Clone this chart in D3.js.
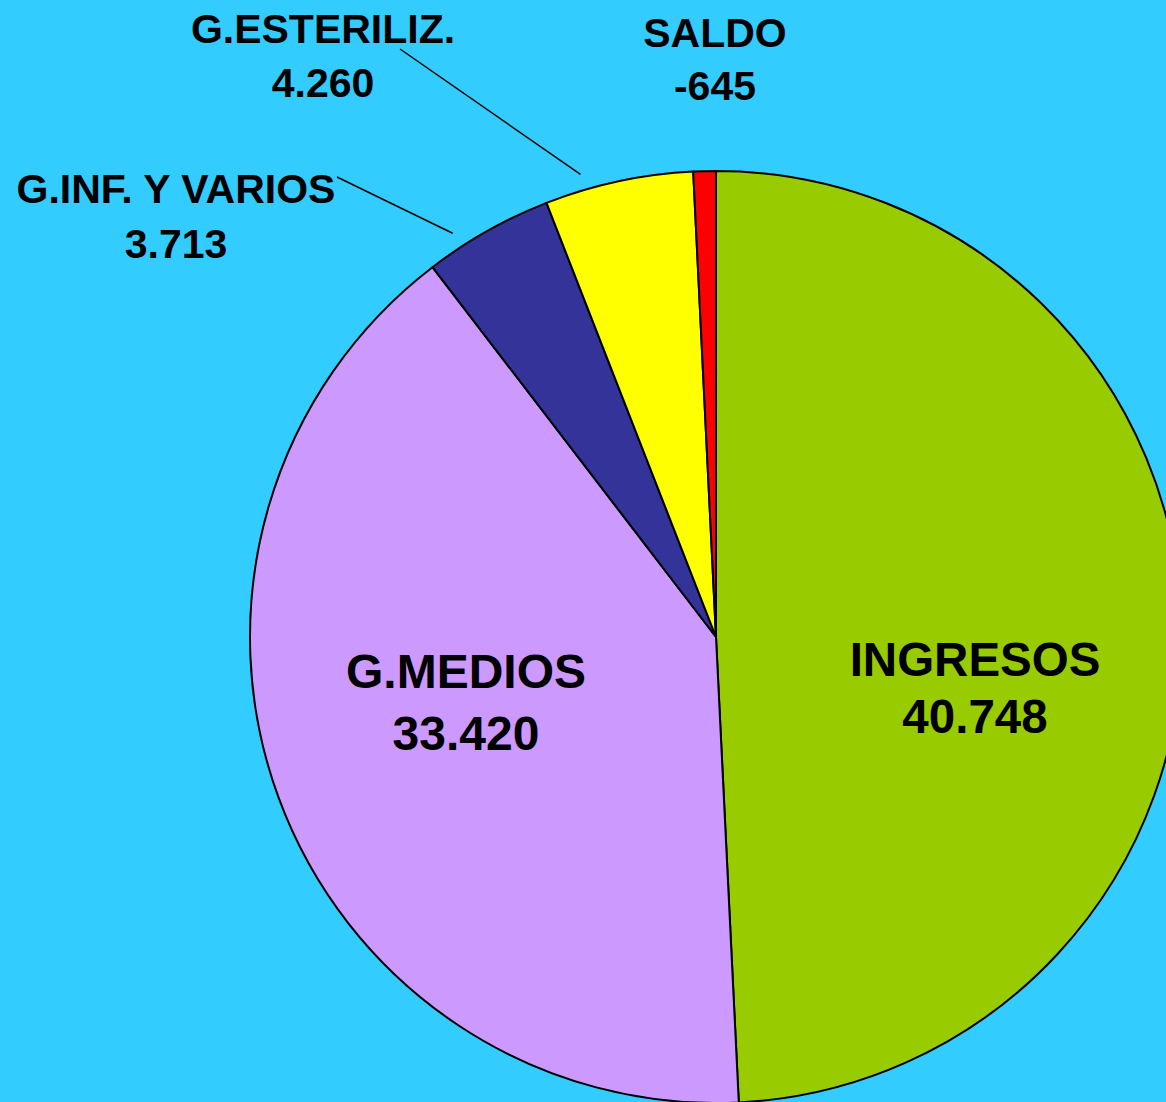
<!DOCTYPE html>
<html>
<head>
<meta charset="utf-8">
<script src="https://cdn.jsdelivr.net/npm/d3@7"></script>
<style>
  html, body { margin: 0; padding: 0; background: #33CCFF; overflow: hidden; }
  text { font-family: "Liberation Sans", Arial, sans-serif; font-weight: bold; fill: #000; }
</style>
</head>
<body>
<div id="chart"></div>
<script>
// pie data, clockwise from 12 o'clock
const categories = ["INGRESOS", "G.MEDIOS", "G.INF. Y VARIOS", "G.ESTERILIZ.", "SALDO"];
const values = [40748, 33420, 3713, 4260, -645];
const valueLabels = ["40.748", "33.420", "3.713", "4.260", "-645"];
const colors = ["#99CC00", "#CC99FF", "#333399", "#FFFF00", "#FF0000"];

const width = 1166, height = 1102;
const cx = 716, cy = 637, radius = 466;

// where each label block sits (first-line baseline), manually placed like the original
const labelLayout = [
  { x: 975, y: 676, size: 47.5, gap: 57 },
  { x: 466, y: 688, size: 48, gap: 62 },
  { x: 176, y: 203, size: 41, gap: 55, leader: [337, 177] },
  { x: 323, y: 43,  size: 41, gap: 54, leader: [400, 49] },
  { x: 715, y: 47,  size: 41, gap: 53 }
];

const svg = d3.select("#chart")
  .append("svg")
  .attr("width", width)
  .attr("height", height);

svg.append("rect")
  .attr("width", width)
  .attr("height", height)
  .attr("fill", "#33CCFF");

const data = categories.map((c, i) => ({ name: c, value: values[i], label: valueLabels[i], color: colors[i] }));

const pie = d3.pie()
  .sort(null)
  .value(d => Math.abs(d.value));

const arc = d3.arc()
  .innerRadius(0)
  .outerRadius(radius);

const arcs = pie(data);

const g = svg.append("g")
  .attr("transform", `translate(${cx},${cy})`);

g.selectAll("path")
  .data(arcs)
  .join("path")
  .attr("d", arc)
  .attr("fill", d => d.data.color)
  .attr("stroke", "#000")
  .attr("stroke-width", 2)
  .attr("stroke-linejoin", "round");

// leader lines for the small outside labels
arcs.forEach((d, i) => {
  const lay = labelLayout[i];
  if (!lay.leader) return;
  const a = d.startAngle + 0.27 * (d.endAngle - d.startAngle);
  const r = radius + 16;
  svg.append("line")
    .attr("x1", lay.leader[0])
    .attr("y1", lay.leader[1])
    .attr("x2", cx + r * Math.sin(a))
    .attr("y2", cy - r * Math.cos(a))
    .attr("stroke", "#000")
    .attr("stroke-width", 1.5);
});

// labels
arcs.forEach((d, i) => {
  const lay = labelLayout[i];
  const t = svg.append("text")
    .attr("text-anchor", "middle")
    .attr("font-size", lay.size);
  t.append("tspan")
    .attr("x", lay.x)
    .attr("y", lay.y)
    .text(d.data.name);
  t.append("tspan")
    .attr("x", lay.x)
    .attr("y", lay.y + lay.gap)
    .text(d.data.label);
});
</script>
</body>
</html>
